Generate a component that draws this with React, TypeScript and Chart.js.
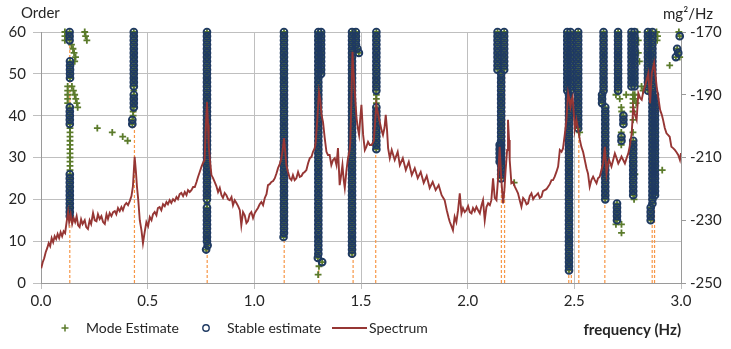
import { useEffect, useRef } from 'react';
import { Chart, registerables } from 'chart.js';

Chart.register(...registerables);

// ---------- data ----------
// x axis (frequency, Hz)
const xTicks = [0, 0.5, 1, 1.5, 2, 2.5, 3];

// Stable-estimate runs: [frequency (Hz), lowest order, highest order]
const stableRuns: [number, number, number][] = [
  [0.134, 58, 60], [0.136, 49, 53], [0.135, 38, 42], [0.135, 16, 26],
  [0.435, 47, 60], [0.435, 42, 45], [0.428, 38, 39],
  [0.778, 20, 60], [0.778, 10, 18], [0.781, 9, 9], [0.774, 8, 8],
  [1.139, 12, 60], [1.137, 11, 11],
  [1.300, 7, 60], [1.313, 50, 60], [1.298, 6, 6], [1.318, 5, 5],
  [1.458, 7, 60], [1.476, 57, 60], [1.483, 56, 56], [1.490, 55, 55],
  [1.572, 46, 60], [1.572, 32, 42],
  [2.140, 51, 60], [2.171, 51, 60], [2.157, 25, 50], [2.150, 29, 33],
  [2.467, 46, 60], [2.482, 46, 60], [2.475, 3, 45],
  [2.518, 37, 60],
  [2.637, 46, 60], [2.630, 43, 45], [2.645, 20, 42],
  [2.705, 46, 60], [2.730, 38, 40], [2.721, 34, 35], [2.700, 15, 19],
  [2.768, 47, 60], [2.782, 47, 60], [2.776, 21, 34],
  [2.845, 46, 60], [2.866, 19, 60], [2.878, 21, 45], [2.858, 15, 18],
  [2.994, 59, 59], [2.982, 56, 56], [2.987, 55, 55], [2.976, 54, 54],
];

// Mode estimates that are not stable: runs [frequency, lowest order, highest order]
const modeRuns: [number, number, number][] = [
  [0.112, 58, 60], [0.125, 43, 47], [0.136, 27, 37],
  [0.778, 19, 19], [1.572, 43, 45], [2.775, 41, 45],
];

// Single mode estimates: [frequency, order]
const modePoints: [number, number][] = [
  [0.143, 57], [0.150, 56], [0.155, 55], [0.162, 54], [0.158, 53],
  [0.145, 47], [0.152, 46], [0.158, 45], [0.163, 44], [0.168, 43], [0.172, 42],
  [0.205, 60], [0.209, 59], [0.215, 58],
  [0.264, 37], [0.334, 36], [0.383, 35], [0.406, 34],
  [0.435, 46], [0.432, 41], [0.432, 40],
  [1.303, 4], [1.299, 2],
  [2.218, 24], [2.525, 36],
  [2.695, 45], [2.713, 44], [2.720, 42], [2.722, 41], [2.720, 36], [2.720, 33],
  [2.695, 14], [2.721, 14], [2.721, 12],
  [2.743, 45], [2.783, 45], [2.783, 44], [2.790, 43], [2.775, 39], [2.775, 36],
  [2.784, 26], [2.780, 20],
  [2.795, 60], [2.800, 58], [2.790, 57], [2.800, 55], [2.805, 53],
  [2.815, 47], [2.822, 46],
  [2.885, 60], [2.890, 59], [2.888, 58],
  [2.912, 27], [2.947, 52], [2.990, 60], [2.994, 54],
];

// Identified peak frequencies (orange dashed drop lines)
const peakFreqs = [0.135, 0.438, 0.779, 1.140, 1.302, 1.463, 1.569, 2.158, 2.173,
  2.474, 2.486, 2.521, 2.643, 2.865, 2.876];

// Spectrum (mg²/Hz, right axis)
const specFreq = [
  0.001, 0.008, 0.015, 0.022, 0.029, 0.036, 0.043, 0.050, 0.057, 0.064,
  0.071, 0.078, 0.085, 0.092, 0.099, 0.106, 0.113, 0.120, 0.127, 0.132,
  0.139, 0.146, 0.153, 0.160, 0.167, 0.174, 0.181, 0.188, 0.195, 0.205,
  0.212, 0.220, 0.228, 0.235, 0.244, 0.252, 0.260, 0.267, 0.275, 0.283,
  0.291, 0.299, 0.307, 0.314, 0.322, 0.330, 0.338, 0.346, 0.353, 0.361,
  0.369, 0.377, 0.384, 0.392, 0.400, 0.408, 0.416, 0.424, 0.431, 0.439,
  0.445, 0.450, 0.456, 0.463, 0.471, 0.478, 0.486, 0.494, 0.502, 0.510,
  0.518, 0.525, 0.533, 0.541, 0.548, 0.556, 0.564, 0.572, 0.580, 0.588,
  0.595, 0.603, 0.611, 0.619, 0.627, 0.635, 0.642, 0.650, 0.658, 0.666,
  0.674, 0.682, 0.689, 0.697, 0.705, 0.713, 0.721, 0.729, 0.736, 0.744,
  0.752, 0.759, 0.767, 0.772, 0.778, 0.783, 0.786, 0.791, 0.799, 0.806,
  0.814, 0.822, 0.830, 0.838, 0.846, 0.853, 0.861, 0.869, 0.877, 0.885,
  0.893, 0.900, 0.908, 0.916, 0.924, 0.932, 0.939, 0.947, 0.955, 0.963,
  0.970, 0.978, 0.986, 0.994, 1.002, 1.010, 1.017, 1.025, 1.033, 1.041,
  1.049, 1.057, 1.064, 1.072, 1.080, 1.088, 1.096, 1.104, 1.111, 1.119,
  1.127, 1.133, 1.139, 1.145, 1.150, 1.158, 1.166, 1.174, 1.181, 1.189,
  1.197, 1.205, 1.213, 1.221, 1.228, 1.236, 1.244, 1.252, 1.260, 1.268,
  1.275, 1.283, 1.288, 1.295, 1.303, 1.309, 1.315, 1.322, 1.330, 1.338,
  1.345, 1.353, 1.361, 1.369, 1.377, 1.385, 1.392, 1.400, 1.407, 1.413,
  1.419, 1.424, 1.432, 1.439, 1.447, 1.450, 1.455, 1.460, 1.464, 1.471,
  1.479, 1.485, 1.491, 1.496, 1.502, 1.510, 1.518, 1.525, 1.533, 1.541,
  1.549, 1.555, 1.560, 1.567, 1.572, 1.578, 1.588, 1.596, 1.603, 1.610,
  1.616, 1.622, 1.627, 1.635, 1.644, 1.658, 1.672, 1.682, 1.696, 1.710,
  1.724, 1.738, 1.752, 1.766, 1.780, 1.794, 1.808, 1.822, 1.836, 1.850,
  1.864, 1.878, 1.892, 1.902, 1.911, 1.916, 1.924, 1.931, 1.939, 1.947,
  1.955, 1.963, 1.971, 1.978, 1.986, 1.994, 2.002, 2.010, 2.018, 2.025,
  2.033, 2.041, 2.049, 2.057, 2.065, 2.072, 2.080, 2.088, 2.096, 2.104,
  2.111, 2.119, 2.127, 2.135, 2.142, 2.150, 2.158, 2.166, 2.172, 2.178,
  2.185, 2.189, 2.194, 2.197, 2.205, 2.213, 2.221, 2.229, 2.236, 2.244,
  2.252, 2.260, 2.268, 2.276, 2.283, 2.291, 2.299, 2.307, 2.314, 2.322,
  2.330, 2.338, 2.346, 2.353, 2.361, 2.369, 2.377, 2.385, 2.393, 2.400,
  2.408, 2.416, 2.424, 2.432, 2.440, 2.447, 2.455, 2.463, 2.471, 2.477,
  2.482, 2.487, 2.492, 2.498, 2.502, 2.510, 2.518, 2.526, 2.533, 2.541,
  2.549, 2.557, 2.564, 2.572, 2.580, 2.588, 2.596, 2.604, 2.611, 2.619,
  2.627, 2.635, 2.643, 2.651, 2.657, 2.663, 2.674, 2.682, 2.690, 2.698,
  2.706, 2.714, 2.721, 2.729, 2.737, 2.745, 2.753, 2.761, 2.769, 2.776,
  2.784, 2.792, 2.800, 2.808, 2.816, 2.823, 2.831, 2.839, 2.847, 2.855,
  2.863, 2.869, 2.874, 2.880, 2.886, 2.894, 2.902, 2.910, 2.916, 2.924,
  2.932, 2.939, 2.947, 2.955, 2.963, 2.971, 2.979, 2.987, 2.995, 3.000,
];
const specDb = [
  -245.3, -243.4, -242.1, -240.2, -238.9, -237.3, -238.3, -235.7, -237.0, -235.1,
  -236.0, -234.4, -235.7, -233.8, -235.1, -233.5, -234.1, -230.6, -227.4, -230.6,
  -228.1, -231.2, -229.3, -230.6, -228.7, -231.6, -232.2, -229.7, -231.2, -230.0,
  -232.2, -232.8, -230.0, -231.2, -227.7, -230.0, -230.3, -228.1, -229.6, -228.7,
  -230.6, -231.2, -228.1, -229.6, -227.7, -228.7, -227.4, -227.1, -228.1, -226.1,
  -227.1, -225.8, -226.8, -225.2, -224.5, -225.2, -223.9, -222.3, -219.1, -209.8,
  -214.6, -219.4, -223.6, -230.0, -233.2, -237.3, -233.8, -230.6, -231.9, -229.0,
  -230.0, -228.1, -227.4, -228.4, -226.1, -225.8, -226.8, -224.9, -225.5, -224.2,
  -224.9, -223.6, -224.5, -223.3, -223.9, -222.6, -223.3, -221.7, -221.3, -222.3,
  -221.0, -222.0, -220.4, -221.0, -220.4, -219.4, -219.4, -217.8, -216.2, -214.6,
  -213.0, -211.8, -210.8, -201.2, -192.3, -199.6, -206.0, -210.2, -215.6, -216.5,
  -217.8, -219.1, -221.0, -219.7, -222.0, -222.9, -221.3, -222.0, -223.3, -223.6,
  -222.6, -225.2, -223.6, -224.5, -225.5, -226.8, -231.6, -227.4, -228.4, -230.9,
  -230.3, -228.1, -227.4, -229.3, -227.7, -226.8, -226.1, -224.9, -224.2, -225.2,
  -222.9, -221.7, -218.8, -218.5, -217.8, -217.5, -216.6, -215.0, -213.4, -212.1,
  -210.2, -207.6, -203.8, -208.2, -212.4, -214.6, -216.6, -217.2, -215.6, -217.2,
  -216.6, -214.6, -216.2, -215.9, -215.0, -214.6, -214.0, -211.8, -210.2, -209.8,
  -208.2, -207.0, -205.0, -198.0, -189.1, -191.6, -196.4, -198.7, -203.8, -208.2,
  -209.2, -209.2, -212.4, -210.8, -210.2, -212.4, -207.0, -218.8, -215.6, -212.4,
  -217.2, -219.7, -214.0, -210.2, -207.6, -205.0, -191.6, -176.3, -182.0, -189.1,
  -197.4, -200.6, -202.8, -198.0, -193.2, -202.8, -207.6, -206.6, -205.0, -206.0,
  -206.0, -205.4, -204.7, -198.0, -193.2, -195.5, -198.7, -201.2, -202.8, -200.6,
  -196.4, -201.2, -207.0, -210.2, -207.6, -210.8, -208.2, -212.4, -210.2, -214.0,
  -211.4, -215.6, -213.4, -216.6, -214.6, -218.1, -215.9, -219.7, -217.8, -220.4,
  -218.8, -222.0, -223.6, -226.8, -229.3, -230.5, -231.9, -233.2, -228.9, -230.6,
  -226.8, -221.4, -227.8, -226.1, -227.4, -226.8, -225.5, -227.4, -227.8, -226.1,
  -227.1, -225.7, -226.8, -227.8, -225.2, -223.6, -230.0, -225.8, -224.6, -225.2,
  -223.6, -216.6, -222.9, -223.6, -217.2, -206.6, -217.2, -224.6, -220.4, -214.0,
  -207.6, -198.0, -204.4, -210.8, -218.2, -217.8, -219.3, -220.4, -221.4, -223.6,
  -225.7, -222.9, -223.6, -224.9, -224.6, -222.3, -221.4, -223.3, -222.5, -222.0,
  -221.4, -222.9, -222.5, -220.7, -220.4, -220.1, -219.3, -218.5, -217.2, -217.2,
  -216.1, -214.6, -212.9, -207.6, -208.2, -207.1, -202.8, -198.0, -189.5, -191.6,
  -193.8, -191.6, -190.6, -196.4, -201.2, -198.0, -201.2, -204.4, -206.6, -208.2,
  -210.8, -213.4, -215.1, -219.3, -217.2, -216.1, -217.2, -218.2, -216.6, -216.1,
  -214.0, -211.9, -206.6, -215.1, -212.4, -210.8, -212.9, -210.8, -208.7, -210.2,
  -211.9, -210.8, -209.7, -210.8, -211.9, -210.2, -208.7, -206.0, -202.3, -193.8,
  -196.4, -198.0, -189.5, -191.0, -191.6, -189.1, -187.4, -185.2, -183.1, -192.7,
  -183.1, -181.4, -179.9, -183.6, -187.4, -191.0, -194.8, -196.4, -198.0, -200.6,
  -202.3, -202.8, -203.4, -206.6, -207.0, -207.6, -208.3, -209.2, -210.8, -208.6,
];

// ---------- styles ----------
const FONT = 'Lato';
const TEXT = '#262626';
const MODE_COLOR = '#5b7b2b';
const STABLE_COLOR = '#1f3a62';
const SPEC_COLOR = '#963634';
const PEAK_COLOR = '#f79646';
const GRID = '#bfbfbf';
const AXIS = '#9a9a9a';

const expandRuns = (runs: [number, number, number][]) =>
  runs.flatMap(([f, lo, hi]) => {
    const pts: { x: number; y: number }[] = [];
    for (let o = lo; o <= hi; o++) pts.push({ x: f, y: o });
    return pts;
  });

const textPlugin = {
  id: 'extraText',
  afterDraw(chart: any) {
    const { ctx, chartArea } = chart;
    ctx.save();
    ctx.fillStyle = TEXT;
    ctx.textBaseline = 'middle';
    ctx.font = `15px ${FONT}`;
    ctx.textAlign = 'left';
    ctx.fillText('Order', 21, 13);
    ctx.fillText('mg²/Hz', 663, 14);

    // legend
    const ly = 328;
    ctx.font = `14px ${FONT}`;
    // Mode estimate (+)
    ctx.strokeStyle = MODE_COLOR;
    ctx.lineWidth = 1.5;
    ctx.beginPath();
    ctx.moveTo(61.5, ly); ctx.lineTo(68.5, ly);
    ctx.moveTo(65, ly - 3.5); ctx.lineTo(65, ly + 3.5);
    ctx.stroke();
    ctx.fillText('Mode Estimate', 86, ly);
    // Stable estimate (o)
    ctx.strokeStyle = STABLE_COLOR;
    ctx.lineWidth = 1.4;
    ctx.beginPath();
    ctx.arc(206, ly, 3.2, 0, Math.PI * 2);
    ctx.stroke();
    ctx.fillText('Stable estimate', 227, ly);
    // Spectrum (line)
    ctx.strokeStyle = SPEC_COLOR;
    ctx.lineWidth = 2;
    ctx.beginPath();
    ctx.moveTo(332, ly); ctx.lineTo(367, ly);
    ctx.stroke();
    ctx.fillText('Spectrum', 369, ly);

    ctx.font = `bold 15px ${FONT}`;
    ctx.textAlign = 'right';
    ctx.fillText('frequency (Hz)', chartArea.right, 330);
    ctx.restore();
  },
};

export default function App() {
  const ref = useRef<HTMLCanvasElement | null>(null);

  useEffect(() => {
    if (!ref.current) return;
    Chart.defaults.font.family = FONT;
    Chart.defaults.color = TEXT;

    const stablePts = expandRuns(stableRuns);
    const modePts = [
      ...stablePts,
      ...expandRuns(modeRuns),
      ...modePoints.map(([x, y]) => ({ x, y })),
    ];
    const peakPts = peakFreqs.flatMap((f) => [
      { x: f, y: 0 },
      { x: f, y: 60 },
      { x: f, y: null as any },
    ]);
    const specPts = specFreq.map((f, i) => ({ x: f, y: specDb[i] }));

    const chart = new Chart(ref.current, {
      type: 'scatter',
      data: {
        datasets: [
          {
            label: 'Mode Estimate',
            data: modePts,
            yAxisID: 'y',
            pointStyle: 'cross',
            pointRadius: 3.4,
            borderColor: MODE_COLOR,
            backgroundColor: MODE_COLOR,
            borderWidth: 1.8,
            order: 2,
            clip: false as any,
          },
          {
            label: 'Stable estimate',
            data: stablePts,
            yAxisID: 'y',
            pointStyle: 'circle',
            pointRadius: 3.4,
            borderColor: STABLE_COLOR,
            backgroundColor: 'rgba(0,0,0,0)',
            borderWidth: 1.9,
            order: 1,
            clip: false as any,
          },
          {
            type: 'line',
            label: 'Spectrum',
            data: specPts,
            yAxisID: 'y2',
            borderColor: SPEC_COLOR,
            backgroundColor: SPEC_COLOR,
            borderWidth: 1.9,
            pointRadius: 0,
            tension: 0,
            order: 0,
          } as any,
          {
            type: 'line',
            label: 'peaks',
            data: peakPts,
            yAxisID: 'y',
            borderColor: PEAK_COLOR,
            borderWidth: 1.2,
            borderDash: [3, 2],
            pointRadius: 0,
            spanGaps: false,
            order: 3,
          } as any,
        ],
      },
      options: {
        responsive: false,
        animation: false,
        devicePixelRatio: 1,
        events: [],
        layout: { padding: { top: 32, bottom: 38, left: 0, right: 0 } },
        plugins: {
          legend: { display: false },
          tooltip: { enabled: false },
        },
        scales: {
          x: {
            type: 'linear',
            min: 0,
            max: 3,
            afterBuildTicks: (s: any) => {
              s.ticks = xTicks.map((v) => ({ value: v }));
            },
            ticks: {
              callback: (v: any) => Number(v).toFixed(1),
              padding: 3,
              font: { size: 15 },
              color: TEXT,
              maxRotation: 0,
            },
            grid: { color: GRID, tickLength: 6 },
            border: { color: AXIS },
            afterFit: (s: any) => { s.height = 28; },
          },
          y: {
            type: 'linear',
            position: 'left',
            min: 0,
            max: 60,
            ticks: { stepSize: 10, padding: 7, font: { size: 15 }, color: TEXT },
            grid: { color: GRID, tickLength: 8 },
            border: { color: AXIS },
            afterFit: (s: any) => { s.width = 41; },
          },
          y2: {
            type: 'linear',
            position: 'right',
            min: -250,
            max: -170,
            ticks: {
              stepSize: 20,
              padding: 4,
              font: { size: 15 },
              color: TEXT,
              callback: (v: any) => String(v),
            },
            grid: { drawOnChartArea: false, tickLength: 5, color: AXIS },
            border: { color: AXIS },
            afterFit: (s: any) => { s.width = 50; },
          },
        },
      } as any,
      plugins: [textPlugin],
    });

    let alive = true;
    if ((document as any).fonts?.load) {
      Promise.all([
        (document as any).fonts.load(`15px ${FONT}`),
        (document as any).fonts.load(`bold 15px ${FONT}`),
      ]).then(() => { if (alive) chart.update(); }).catch(() => {});
    }

    return () => {
      alive = false;
      chart.destroy();
    };
  }, []);

  return (
    <div style={{ position: 'absolute', left: 0, top: 0, width: 731, height: 349, background: '#fff' }}>
      <canvas ref={ref} width={731} height={349} style={{ display: 'block', width: 731, height: 349 }} />
    </div>
  );
}
